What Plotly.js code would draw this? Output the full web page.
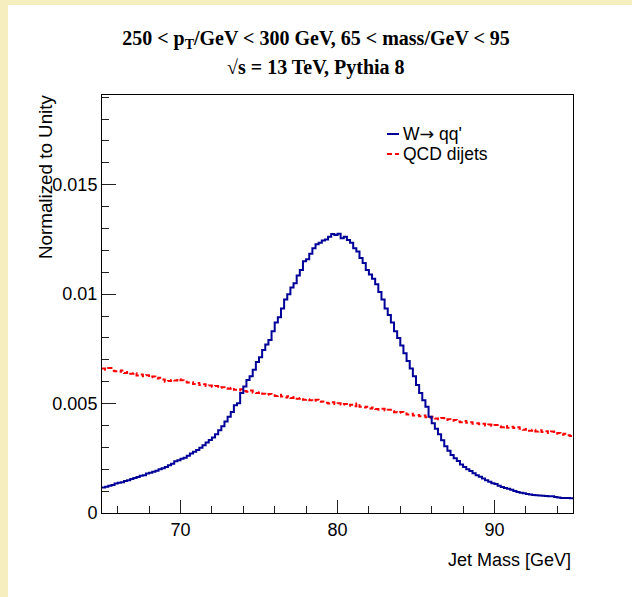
<!DOCTYPE html>
<html>
<head>
<meta charset="utf-8">
<script src="https://cdn.plot.ly/plotly-3.0.1.min.js"></script>
<style>
  html, body { margin: 0; padding: 0; background: #f7eec0; width: 632px; height: 597px; overflow: hidden; }
  #chart { position: absolute; left: 8px; top: 5px; width: 624px; height: 592px; }
</style>
</head>
<body>
<div id="chart"></div>
<script>
// Histogram binning
const binLow = 65;
const binWidth = 0.2;

// W -> qq' (normalized), 150 bins of 0.2 GeV from 65 to 95
const wqq = [
  0.00116, 0.00120, 0.00124, 0.00128, 0.00135,
  0.00138, 0.00141, 0.00146, 0.00150, 0.00155,
  0.00160, 0.00164, 0.00170, 0.00172, 0.00180,
  0.00184, 0.00189, 0.00193, 0.00200, 0.00205,
  0.00210, 0.00218, 0.00225, 0.00236, 0.00241,
  0.00248, 0.00253, 0.00262, 0.00272, 0.00280,
  0.00288, 0.00298, 0.00310, 0.00322, 0.00333,
  0.00345, 0.00360, 0.00378, 0.00396, 0.00418,
  0.00440, 0.00462, 0.00492, 0.00502, 0.00548,
  0.00578, 0.00608, 0.00625, 0.00655, 0.00690,
  0.00712, 0.00745, 0.00770, 0.00790, 0.00830,
  0.00870, 0.00895, 0.00935, 0.00975, 0.01000,
  0.01030, 0.01050, 0.01085, 0.01110, 0.01150,
  0.01160, 0.01185, 0.01210, 0.01228, 0.01235,
  0.01245, 0.01250, 0.01262, 0.01275, 0.01270,
  0.01276, 0.01255, 0.01262, 0.01248, 0.01235,
  0.01210, 0.01195, 0.01165, 0.01142, 0.01110,
  0.01090, 0.01070, 0.01045, 0.01010, 0.00975,
  0.00935, 0.00905, 0.00870, 0.00830, 0.00800,
  0.00765, 0.00730, 0.00695, 0.00660, 0.00625,
  0.00585, 0.00548, 0.00515, 0.00485, 0.00440,
  0.00410, 0.00385, 0.00360, 0.00332, 0.00305,
  0.00285, 0.00265, 0.00250, 0.00238, 0.00222,
  0.00210, 0.00200, 0.00192, 0.00182, 0.00172,
  0.00166, 0.00158, 0.00150, 0.00143, 0.00136,
  0.00132, 0.00125, 0.00119, 0.00114, 0.00111,
  0.00106, 0.00100, 0.00096, 0.00093, 0.00090,
  0.00087, 0.00084, 0.00082, 0.00081, 0.00080,
  0.00079, 0.00078, 0.00077, 0.00076, 0.00073,
  0.00071, 0.00069, 0.00068, 0.00069, 0.00067
];

// QCD dijets (normalized)
const qcd = [
  0.00660, 0.00655, 0.00662, 0.00650, 0.00648,
  0.00645, 0.00651, 0.00640, 0.00644, 0.00636,
  0.00640, 0.00628, 0.00633, 0.00625, 0.00630,
  0.00620, 0.00624, 0.00615, 0.00618, 0.00610,
  0.00600, 0.00603, 0.00608, 0.00605, 0.00612,
  0.00607, 0.00600, 0.00596, 0.00598, 0.00590,
  0.00594, 0.00585, 0.00588, 0.00580, 0.00583,
  0.00577, 0.00580, 0.00572, 0.00575, 0.00570,
  0.00568, 0.00572, 0.00563, 0.00560, 0.00566,
  0.00558, 0.00554, 0.00560, 0.00550, 0.00548,
  0.00552, 0.00545, 0.00540, 0.00544, 0.00538,
  0.00535, 0.00540, 0.00532, 0.00528, 0.00534,
  0.00526, 0.00530, 0.00522, 0.00525, 0.00518,
  0.00520, 0.00515, 0.00512, 0.00518, 0.00508,
  0.00510, 0.00504, 0.00500, 0.00506, 0.00498,
  0.00502, 0.00495, 0.00498, 0.00490, 0.00495,
  0.00488, 0.00500, 0.00485, 0.00482, 0.00486,
  0.00478, 0.00482, 0.00475, 0.00472, 0.00476,
  0.00468, 0.00472, 0.00465, 0.00460, 0.00458,
  0.00462, 0.00455, 0.00450, 0.00453, 0.00446,
  0.00448, 0.00442, 0.00445, 0.00438, 0.00435,
  0.00440, 0.00432, 0.00428, 0.00434, 0.00425,
  0.00428, 0.00422, 0.00425, 0.00418, 0.00415,
  0.00420, 0.00412, 0.00415, 0.00408, 0.00410,
  0.00405, 0.00408, 0.00400, 0.00404, 0.00398,
  0.00402, 0.00396, 0.00392, 0.00398, 0.00390,
  0.00394, 0.00388, 0.00392, 0.00385, 0.00380,
  0.00384, 0.00376, 0.00380, 0.00372, 0.00378,
  0.00370, 0.00374, 0.00366, 0.00372, 0.00362,
  0.00365, 0.00358, 0.00362, 0.00355, 0.00352
];

const seriesNames = ["W<span style='font-family:DejaVu Sans'>\u2192</span> qq'", "QCD dijets"];
const xTitle = "Jet Mass [GeV]";
const yTitle = "Normalized to Unity";
const titleLine1 = "<b>250 < p<sub>T</sub>/GeV < 300 GeV, 65 < mass/GeV < 95</b>";
const titleLine2 = "<b>\u221As = 13 TeV, Pythia 8</b>";

function stepXY(vals) {
  const xs = [], ys = [];
  for (let i = 0; i < vals.length; i++) { xs.push(binLow + i * binWidth); ys.push(vals[i]); }
  xs.push(binLow + vals.length * binWidth); ys.push(vals[vals.length - 1]);
  return {xs, ys};
}
const w = stepXY(wqq), q = stepXY(qcd);

const sans = "'Liberation Sans', Arial, Helvetica, sans-serif";
const serif = "'Liberation Serif', 'Times New Roman', serif";

const traces = [
  {x: q.xs, y: q.ys, type: 'scatter', mode: 'lines', line: {shape: 'hv', color: '#ff0000', width: 2, dash: '5px,3px'}, name: 'QCD dijets', showlegend: false, hoverinfo: 'skip'},
  {x: w.xs, y: w.ys, type: 'scatter', mode: 'lines', line: {shape: 'hv', color: '#000099', width: 2}, name: "W qq'", showlegend: false, hoverinfo: 'skip'}
];

// pixel helpers for paper coords (plot area 471 x 418)
const PW = 471, PH = 418;
const axisFont = {family: sans, size: 18, color: '#000'};

const layout = {
  width: 624, height: 592,
  margin: {l: 94, r: 59, t: 90, b: 84, pad: 0},
  paper_bgcolor: '#ffffff',
  plot_bgcolor: '#ffffff',
  title: {text: titleLine1, font: {family: serif, size: 20, color: '#000'}, x: (316 - 8)/624, xanchor: 'center', xref: 'container', y: 1 - 33/592, yanchor: 'middle', yref: 'container'},
  xaxis: {
    range: [65, 95], showgrid: false, zeroline: false,
    showline: true, linecolor: '#000', linewidth: 1, mirror: true,
    ticks: 'inside', tick0: 70, dtick: 10, ticklen: 13, tickcolor: '#222', tickwidth: 1,
    minor: {dtick: 2, tick0: 66, ticks: 'inside', ticklen: 7, tickcolor: '#222', tickwidth: 1, showgrid: false},
    tickfont: axisFont, ticklabelstandoff: 0
  },
  yaxis: {
    range: [0, 0.0191], showgrid: false, zeroline: false,
    showline: true, linecolor: '#000', linewidth: 1, mirror: true,
    ticks: 'inside', tick0: 0, dtick: 0.005, ticklen: 14, tickcolor: '#222', tickwidth: 1,
    minor: {dtick: 0.001, ticks: 'inside', ticklen: 7, tickcolor: '#222', tickwidth: 1, showgrid: false},
    tickfont: axisFont
  },
  annotations: [
    {text: titleLine2, xref: 'paper', yref: 'paper', x: (316 - 102)/PW, y: (513 - 68)/PH, xanchor: 'center', yanchor: 'middle', showarrow: false, font: {family: serif, size: 20, color: '#000'}},
    {text: yTitle, xref: 'paper', yref: 'paper', x: (45 - 102)/PW, y: (513 - 93)/PH, xanchor: 'center', yanchor: 'top', textangle: -90, showarrow: false, font: {family: sans, size: 18.8, color: '#000'}},
    {text: xTitle, xref: 'paper', yref: 'paper', x: 1, y: (513 - 560)/PH, xanchor: 'right', yanchor: 'middle', showarrow: false, font: {family: sans, size: 18, color: '#000'}},
    {text: seriesNames[0], xref: 'paper', yref: 'paper', x: (401 - 102)/PW, y: (513 - 134)/PH, xanchor: 'left', yanchor: 'middle', showarrow: false, font: {family: sans, size: 17.5, color: '#000'}},
    {text: seriesNames[1], xref: 'paper', yref: 'paper', x: (401 - 102)/PW, y: (513 - 154)/PH, xanchor: 'left', yanchor: 'middle', showarrow: false, font: {family: sans, size: 17.5, color: '#000'}}
  ],
  shapes: [
    {type: 'line', xref: 'paper', yref: 'paper', x0: (387 - 102)/PW, x1: (399 - 102)/PW, y0: (513 - 134)/PH, y1: (513 - 134)/PH, line: {color: '#000099', width: 2}},
    {type: 'line', xref: 'paper', yref: 'paper', x0: (387 - 102)/PW, x1: (399 - 102)/PW, y0: (513 - 154)/PH, y1: (513 - 154)/PH, line: {color: '#ff0000', width: 2, dash: '5px,3px'}}
  ]
};

Plotly.newPlot('chart', traces, layout, {displayModeBar: false, staticPlot: true});
</script>
</body>
</html>
